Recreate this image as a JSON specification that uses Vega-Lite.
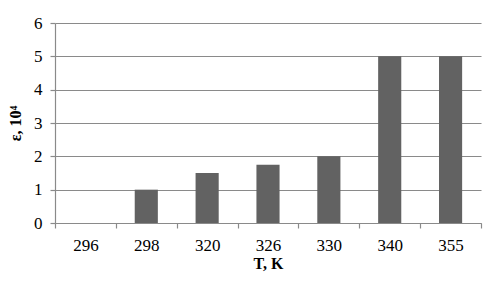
{
  "$schema": "https://vega.github.io/schema/vega-lite/v6.json",
  "width": 426,
  "height": 200,
  "autosize": "none",
  "padding": {"left": 55, "right": 4, "top": 23, "bottom": 77},
  "background": "white",
  "data": {
    "values": [
      {"T": "296", "eps": 0},
      {"T": "298", "eps": 1},
      {"T": "320", "eps": 1.5},
      {"T": "326", "eps": 1.75},
      {"T": "330", "eps": 2},
      {"T": "340", "eps": 5},
      {"T": "355", "eps": 5}
    ]
  },
  "mark": {"type": "bar", "color": "#626262", "width": {"band": 0.38}},
  "encoding": {
    "x": {
      "field": "T",
      "type": "ordinal",
      "sort": null,
      "scale": {"paddingInner": 0, "paddingOuter": 0},
      "axis": {
        "title": "T, K",
        "labelAngle": 0,
        "tickBand": "extent",
        "tickSize": 5,
        "labelPadding": 9,
        "titlePadding": 2,
        "grid": false
      }
    },
    "y": {
      "field": "eps",
      "type": "quantitative",
      "scale": {"domain": [0, 6]},
      "axis": {
        "title": "ε, 10⁴",
        "values": [0, 1, 2, 3, 4, 5, 6],
        "tickSize": 5,
        "labelPadding": 8,
        "titlePadding": 10,
        "grid": true
      }
    }
  },
  "config": {
    "view": {"stroke": null},
    "font": "Liberation Serif",
    "axis": {
      "labelFont": "Liberation Serif",
      "titleFont": "Liberation Serif",
      "labelFontSize": 17,
      "titleFontSize": 16,
      "titleFontWeight": "bold",
      "labelColor": "#000000",
      "titleColor": "#000000",
      "domainColor": "#8a8a8a",
      "tickColor": "#8a8a8a",
      "gridColor": "#8a8a8a",
      "gridOpacity": 1,
      "domainWidth": 1.2,
      "tickWidth": 1.2,
      "gridWidth": 1.2
    }
  }
}
